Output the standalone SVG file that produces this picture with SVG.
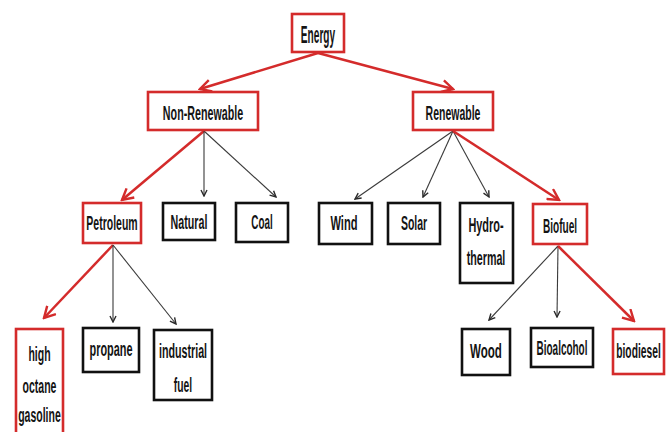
<svg xmlns="http://www.w3.org/2000/svg" width="670" height="432" viewBox="0 0 670 432">
<style>
  .bk { fill: #ffffff; stroke: #111111; stroke-width: 2.6; }
  .rd { fill: #ffffff; stroke: #d42b2b; stroke-width: 2.6; }
  .t { font-family: "Liberation Sans", Arial, sans-serif; font-weight: bold; font-size: 21px; fill: #141414; text-anchor: middle; }
  .big { font-size: 23px; }
  .cr { fill: none; stroke: #d42b2b; stroke-width: 2.5; }
  .cb { fill: none; stroke: #3a3a3a; stroke-width: 1.1; }
</style>
<defs>
  <marker id="ar" markerUnits="userSpaceOnUse" markerWidth="14" markerHeight="14" viewBox="0 0 14 14" refX="12" refY="7" orient="auto">
    <path d="M1,1 L12,7 L1,13" fill="none" stroke="#d42b2b" stroke-width="2.4"/>
  </marker>
  <marker id="ab" markerUnits="userSpaceOnUse" markerWidth="8" markerHeight="8" viewBox="0 0 8 8" refX="7" refY="4" orient="auto">
    <path d="M1,1 L7,4 L1,7" fill="none" stroke="#2a2a2a" stroke-width="1.4"/>
  </marker>
</defs>

<g id="connectors">
  <line class="cr" x1="318" y1="53" x2="200" y2="89" marker-end="url(#ar)"/>
  <line class="cr" x1="318" y1="53" x2="453" y2="89" marker-end="url(#ar)"/>
  <line class="cr" x1="204" y1="131" x2="122" y2="200" marker-end="url(#ar)"/>
  <line class="cb" x1="204" y1="131" x2="204" y2="196" marker-end="url(#ab)"/>
  <line class="cb" x1="204" y1="131" x2="276" y2="197" marker-end="url(#ab)"/>
  <line class="cb" x1="453" y1="131" x2="355" y2="199" marker-end="url(#ab)"/>
  <line class="cb" x1="453" y1="131" x2="423" y2="197" marker-end="url(#ab)"/>
  <line class="cb" x1="453" y1="131" x2="489" y2="197" marker-end="url(#ab)"/>
  <line class="cr" x1="453" y1="131" x2="559" y2="200" marker-end="url(#ar)"/>
  <line class="cr" x1="113" y1="245" x2="44" y2="318" marker-end="url(#ar)"/>
  <line class="cb" x1="113" y1="245" x2="113" y2="322" marker-end="url(#ab)"/>
  <line class="cb" x1="113" y1="245" x2="176" y2="324" marker-end="url(#ab)"/>
  <line class="cb" x1="558" y1="246" x2="489" y2="320" marker-end="url(#ab)"/>
  <line class="cb" x1="558" y1="246" x2="557" y2="317" marker-end="url(#ab)"/>
  <line class="cr" x1="558" y1="246" x2="634" y2="321" marker-end="url(#ar)"/>
</g>

<g id="energy">
  <rect class="rd" x="292" y="14" width="52" height="38"/>
  <text class="t big" transform="translate(318,43) scale(0.44,1)">Energy</text>
</g>
<g id="non-renewable">
  <rect class="rd" x="148" y="92" width="110" height="38"/>
  <text class="t" transform="translate(203,120) scale(0.51,1)">Non-Renewable</text>
</g>
<g id="renewable">
  <rect class="rd" x="413" y="92" width="80" height="38"/>
  <text class="t" transform="translate(453,120) scale(0.5,1)">Renewable</text>
</g>
<g id="petroleum">
  <rect class="rd" x="83" y="203" width="58" height="40"/>
  <text class="t" transform="translate(112,230) scale(0.5,1)">Petroleum</text>
</g>
<g id="natural">
  <rect class="bk" x="163" y="203" width="52" height="37"/>
  <text class="t" transform="translate(189,229) scale(0.51,1)">Natural</text>
</g>
<g id="coal">
  <rect class="bk" x="236" y="203" width="52" height="39"/>
  <text class="t" transform="translate(262,229) scale(0.47,1)">Coal</text>
</g>
<g id="wind">
  <rect class="bk" x="319" y="203" width="53" height="41"/>
  <text class="t" transform="translate(344,230) scale(0.53,1)">Wind</text>
</g>
<g id="solar">
  <rect class="bk" x="388" y="203" width="52" height="41"/>
  <text class="t" transform="translate(414,230) scale(0.5,1)">Solar</text>
</g>
<g id="hydrothermal">
  <rect class="bk" x="460" y="203" width="53" height="80"/>
  <text class="t" transform="translate(486,232) scale(0.52,1)">Hydro-</text>
  <text class="t" transform="translate(486,265) scale(0.51,1)">thermal</text>
</g>
<g id="biofuel">
  <rect class="rd" x="533" y="204" width="54" height="40"/>
  <text class="t" transform="translate(560,233) scale(0.48,1)">Biofuel</text>
</g>
<g id="high-octane-gasoline">
  <rect class="rd" x="16" y="329" width="47" height="112"/>
  <text class="t" transform="translate(39.5,361) scale(0.5,1)">high</text>
  <text class="t" transform="translate(39.5,393) scale(0.5,1)">octane</text>
  <text class="t" transform="translate(39.5,422) scale(0.5,1)">gasoline</text>
</g>
<g id="propane">
  <rect class="bk" x="83" y="328" width="56" height="44"/>
  <text class="t" transform="translate(111,356) scale(0.52,1)">propane</text>
</g>
<g id="industrial-fuel">
  <rect class="bk" x="154" y="330" width="58" height="70"/>
  <text class="t" transform="translate(183,358) scale(0.51,1)">industrial</text>
  <text class="t" transform="translate(183,392) scale(0.49,1)">fuel</text>
</g>
<g id="wood">
  <rect class="bk" x="462" y="329" width="48" height="46"/>
  <text class="t" transform="translate(486,358) scale(0.55,1)">Wood</text>
</g>
<g id="bioalcohol">
  <rect class="bk" x="531" y="328" width="62" height="39"/>
  <text class="t" transform="translate(562,355) scale(0.475,1)">Bioalcohol</text>
</g>
<g id="biodiesel">
  <rect class="rd" x="613" y="329" width="51" height="45"/>
  <text class="t" transform="translate(638.5,358) scale(0.49,1)">biodiesel</text>
</g>
</svg>
